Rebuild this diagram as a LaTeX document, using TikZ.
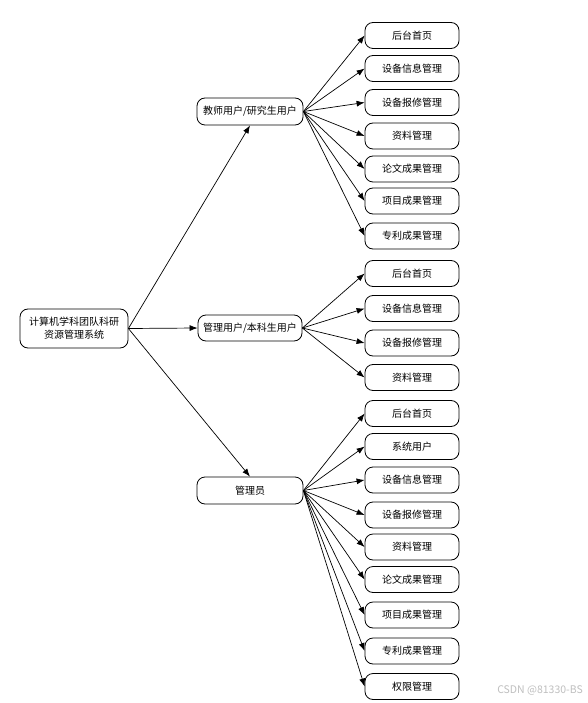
\documentclass[tikz,border=0pt]{standalone}
\usepackage{fontspec}
\setmainfont{Noto Sans CJK SC}
\usetikzlibrary{arrows.meta}
\begin{document}
\begin{tikzpicture}[x=1pt,y=-1pt,
  box/.style={draw, rounded corners=8pt, line width=0.8pt, font=\fontsize{10}{13}\selectfont, inner sep=0pt, align=center},
  leaf/.style={box, minimum width=94pt, minimum height=26pt},
  arr/.style={-{Latex[length=8pt,width=6pt]}, line width=0.7pt}]
\useasboundingbox (0,0) rectangle (587,703);
\fill[white] (0,0) rectangle (587,703);

\node[box, minimum width=108pt, minimum height=39pt] (root) at (74,328.5) {计算机学科团队科研\\资源管理系统};
\node[box, minimum width=106pt, minimum height=27pt] (teach) at (250,111.5) {教师用户/研究生用户};
\node[box, minimum width=104pt, minimum height=26pt] (mid) at (250,328) {管理用户/本科生用户};
\node[box, minimum width=106pt, minimum height=27pt] (adm) at (250,490.5) {管理员};

\draw[arr] (root.east) -- (teach.south);
\draw[arr] (root.east) -- (mid.west);
\draw[arr] (root.east) -- (adm.north);

\foreach \n/\y/\t in {t1/35.5/后台首页, t2/68.5/设备信息管理, t3/102.5/设备报修管理, t4/136/资料管理, t5/169/论文成果管理, t6/201/项目成果管理, t7/236/专利成果管理}{
  \node[leaf] (\n) at (412,\y) {\t};
  \draw[arr] (teach.east) -- (\n.west);
}
\foreach \n/\y/\t in {m1/273.5/后台首页, m2/308.5/设备信息管理, m3/343/设备报修管理, m4/377.5/资料管理}{
  \node[leaf] (\n) at (412,\y) {\t};
  \draw[arr] (mid.east) -- (\n.west);
}
\foreach \n/\y/\t in {a1/413.5/后台首页, a2/446.5/系统用户, a3/480/设备信息管理, a4/515/设备报修管理, a5/547/资料管理, a6/579.5/论文成果管理, a7/615/项目成果管理, a8/651/专利成果管理, a9/686.5/权限管理}{
  \node[leaf] (\n) at (412,\y) {\t};
  \draw[arr] (adm.east) -- (\n.west);
}

\node[text=black!25, font=\fontsize{10.5}{11}\selectfont, anchor=east, inner sep=0pt] (wm) at (583,690) {CSDN @81330-BS};
\end{tikzpicture}
\end{document}
